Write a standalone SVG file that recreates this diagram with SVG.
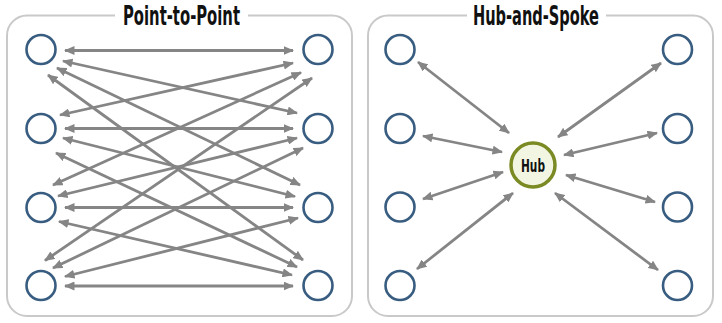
<svg xmlns="http://www.w3.org/2000/svg" width="722" height="323" viewBox="0 0 722 323">
<style>
.panel{fill:#ffffff;stroke:#c9c9c9;stroke-width:2}
.title{font-family:"Liberation Sans Narrow","DejaVu Sans Condensed","Liberation Sans",sans-serif;font-weight:bold;font-size:26px;fill:#111;text-anchor:middle}
.node{fill:#ffffff;stroke:#385d80;stroke-width:2.6}
.hub{fill:#f3f5e3;stroke:#7b8a23;stroke-width:3.5}
.hubtxt{font-family:"Liberation Sans Narrow","DejaVu Sans Condensed","Liberation Sans",sans-serif;font-weight:bold;font-size:17px;fill:#111;text-anchor:middle}
.c line{stroke:#858585;stroke-width:2.8;marker-start:url(#ah);marker-end:url(#ah)}
</style>
<defs>
<marker id="ah" markerUnits="userSpaceOnUse" markerWidth="11" markerHeight="9" refX="9.5" refY="4.5" orient="auto-start-reverse">
<path d="M0,0 L10.5,4.5 L0,9 z" fill="#858585"/>
</marker>
</defs>
<rect width="722" height="323" fill="#ffffff"/>
<g id="panel-p2p">
<rect class="panel" x="7" y="15.5" width="345" height="300.5" rx="20"/>
<rect x="115" y="5" width="133" height="20" fill="#ffffff"/>
<text class="title" x="181.5" y="25" textLength="117" lengthAdjust="spacingAndGlyphs">Point-to-Point</text>
</g>
<g id="panel-hub">
<rect class="panel" x="368" y="15.5" width="345" height="300.5" rx="20"/>
<rect x="467" y="5" width="139" height="20" fill="#ffffff"/>
<text class="title" x="536" y="25" textLength="126" lengthAdjust="spacingAndGlyphs">Hub-and-Spoke</text>
</g>
<g id="connectors" class="c">
<line x1="65" y1="50.5" x2="293" y2="50.5"/>
<line x1="65" y1="128.5" x2="293" y2="128.5"/>
<line x1="65" y1="207.5" x2="293" y2="207.5"/>
<line x1="65" y1="286" x2="293" y2="286"/>
<line x1="63" y1="61" x2="297" y2="113"/>
<line x1="60" y1="115" x2="293" y2="63"/>
<line x1="57" y1="68" x2="300" y2="185"/>
<line x1="53" y1="185" x2="301" y2="72.5"/>
<line x1="48" y1="75" x2="303" y2="260"/>
<line x1="45" y1="260.5" x2="312" y2="78"/>
<line x1="63" y1="138" x2="295" y2="196.5"/>
<line x1="58" y1="196" x2="297" y2="138"/>
<line x1="56" y1="153" x2="297" y2="267"/>
<line x1="53" y1="268" x2="303" y2="148"/>
<line x1="59" y1="221.5" x2="292" y2="275"/>
<line x1="65" y1="276.5" x2="298" y2="218"/>
<line x1="418" y1="62" x2="509" y2="133"/>
<line x1="423" y1="136" x2="502" y2="152"/>
<line x1="423" y1="199" x2="503" y2="172"/>
<line x1="417" y1="269" x2="513" y2="193"/>
<line x1="661" y1="63" x2="558" y2="137"/>
<line x1="657" y1="133" x2="564" y2="155"/>
<line x1="655" y1="202" x2="566" y2="175"/>
<line x1="658" y1="270" x2="555" y2="193"/>
</g>
<g id="p2p-l1"><circle class="node" cx="41" cy="49.5" r="14.5"/></g>
<g id="p2p-l2"><circle class="node" cx="41" cy="128.5" r="14.5"/></g>
<g id="p2p-l3"><circle class="node" cx="41" cy="207.5" r="14.5"/></g>
<g id="p2p-l4"><circle class="node" cx="41" cy="285.5" r="14.5"/></g>
<g id="p2p-r1"><circle class="node" cx="318" cy="49.5" r="14.5"/></g>
<g id="p2p-r2"><circle class="node" cx="318" cy="128.5" r="14.5"/></g>
<g id="p2p-r3"><circle class="node" cx="318" cy="207.5" r="14.5"/></g>
<g id="p2p-r4"><circle class="node" cx="318" cy="285.5" r="14.5"/></g>
<g id="hs-l1"><circle class="node" cx="400" cy="49.5" r="14.5"/></g>
<g id="hs-l2"><circle class="node" cx="400" cy="128.5" r="14.5"/></g>
<g id="hs-l3"><circle class="node" cx="400" cy="207" r="14.5"/></g>
<g id="hs-l4"><circle class="node" cx="400" cy="285.5" r="14.5"/></g>
<g id="hs-r1"><circle class="node" cx="677.5" cy="49.5" r="14.5"/></g>
<g id="hs-r2"><circle class="node" cx="677.5" cy="128.5" r="14.5"/></g>
<g id="hs-r3"><circle class="node" cx="677.5" cy="207" r="14.5"/></g>
<g id="hs-r4"><circle class="node" cx="677.5" cy="285.5" r="14.5"/></g>
<g id="hub">
<circle class="hub" cx="533" cy="165" r="22"/>
<text class="hubtxt" x="533" y="171.5" textLength="24" lengthAdjust="spacingAndGlyphs">Hub</text>
</g>
</svg>
